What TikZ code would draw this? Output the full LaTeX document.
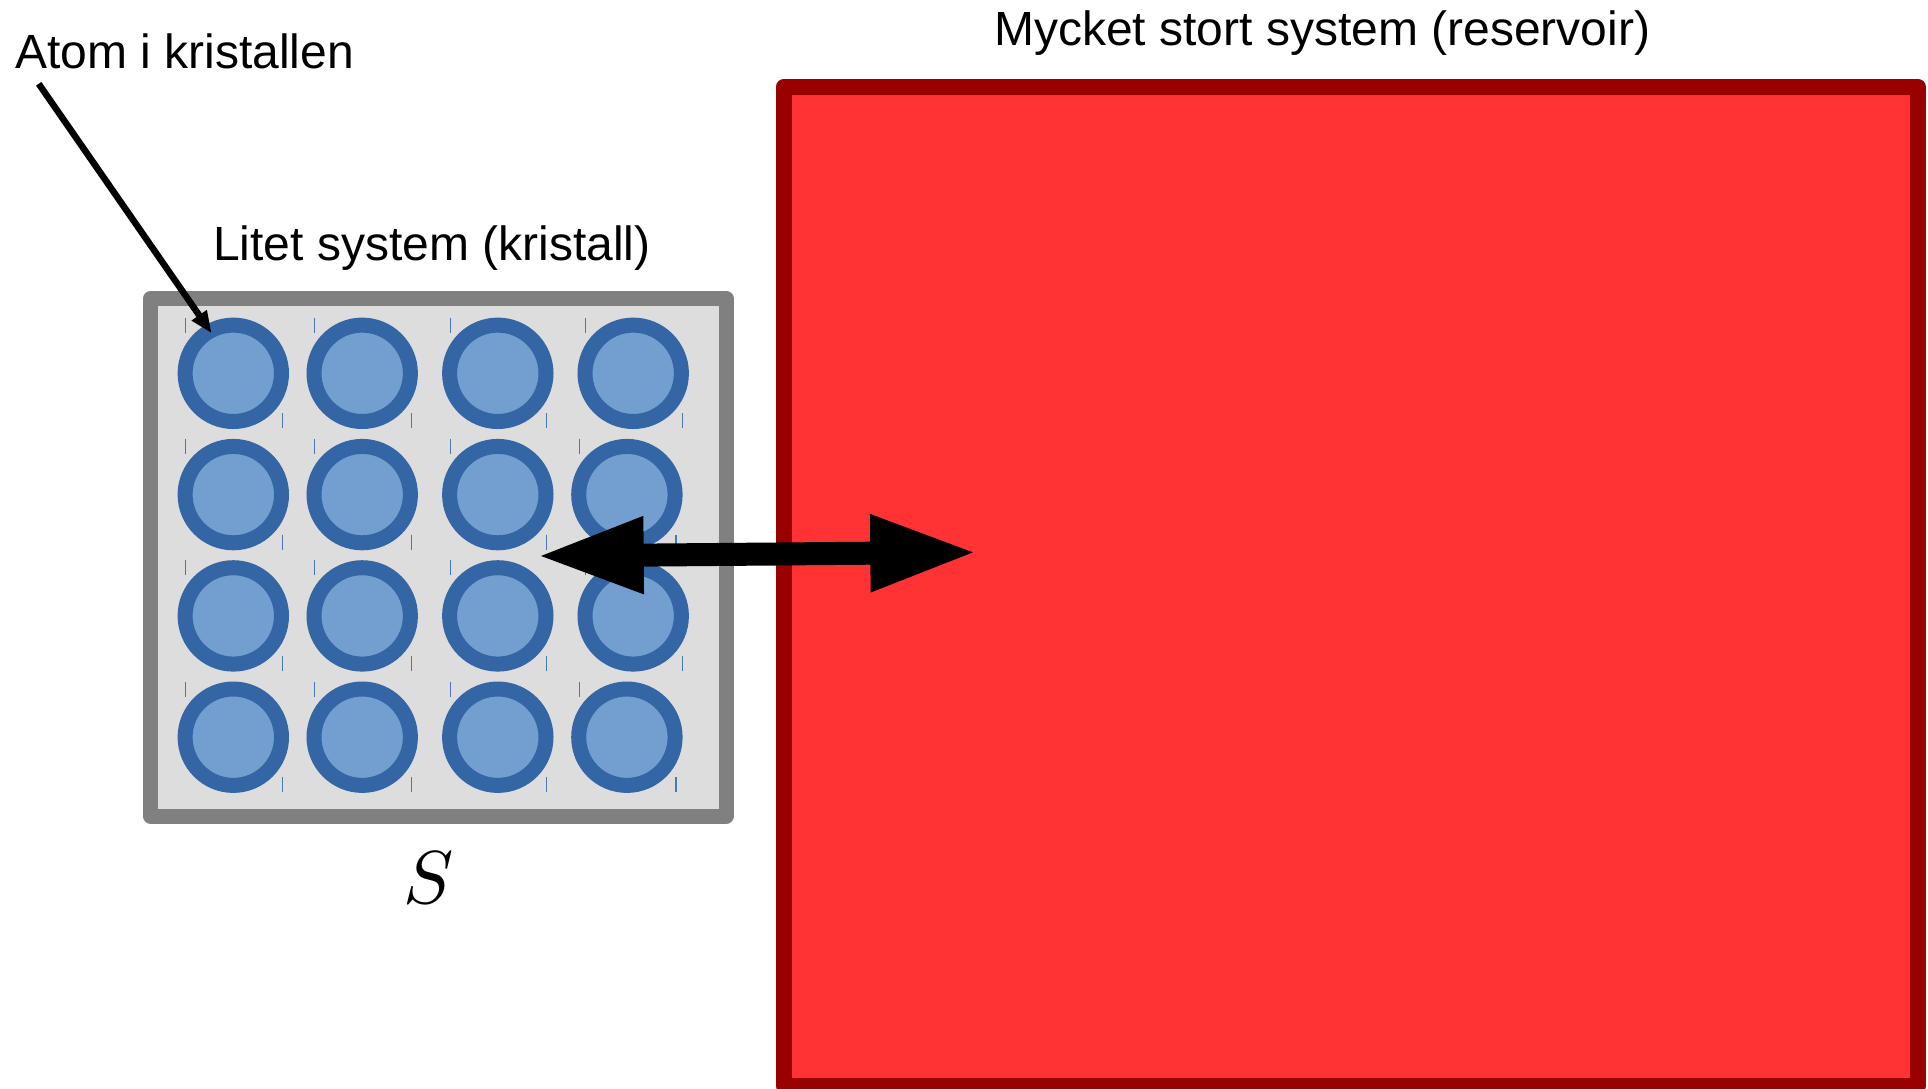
\documentclass[tikz,border=0pt]{standalone}
\usepackage{fontspec}
\setmainfont{Liberation Sans}
\usetikzlibrary{arrows.meta}
\definecolor{boxfill}{HTML}{DDDDDD}
\definecolor{boxline}{HTML}{808080}
\definecolor{atomfill}{HTML}{729FCF}
\definecolor{atomline}{HTML}{3465A4}
\definecolor{resfill}{HTML}{FF3333}
\definecolor{resline}{HTML}{990000}
\definecolor{tickcol}{HTML}{4A78B4}
\tikzset{
  lbl/.style={font=\fontsize{48}{58}\selectfont, inner sep=0pt, text=black},
  crystalbox/.style={draw=boxline, fill=boxfill, line width=15pt, line join=round, rectangle, inner sep=0pt},
  reservoirbox/.style={draw=resline, fill=resfill, line width=16pt, line join=round, rectangle, inner sep=0pt},
  atom/.style={circle, draw=atomline, fill=atomfill, line width=15pt, minimum size=96.4pt, inner sep=0pt},
  tickmark/.style={draw=tickcol, line width=1.3pt},
  bigarrow/.style={line width=23pt, {Triangle[length=107pt,width=71pt]}-{Triangle[length=107pt,width=71pt]}},
  pointer/.style={line width=6.5pt, -{Triangle[length=22pt,width=17pt]}}
}
\begin{document}
\begin{tikzpicture}[x=1pt,y=-1pt]
\useasboundingbox (0,0) rectangle (1928,1088);
\fill[white] (0,0) rectangle (1928,1088);
% crystal
\node[crystalbox, minimum width=575.5pt, minimum height=517.5pt] (crystal) at (438.25,557.25) {};
\foreach \n/\cx/\cy in {11/233.3/373.3, 12/362.2/373.3, 13/497.8/373.3, 14/633.2/373.3,
                        21/233.3/494.6, 22/362.2/494.6, 23/497.8/494.6, 24/626.9/494.6,
                        31/233.3/615.9, 32/362.2/615.9, 33/497.8/615.9, 34/633.2/615.9,
                        41/233.3/737.2, 42/362.2/737.2, 43/497.8/737.2, 44/626.9/737.2} {
  \node[atom] (c\n) at (\cx,\cy) {};
  \draw[tickmark] (\cx-47.6,\cy-55.5) -- ++(0,15);
  \draw[tickmark] (\cx+49,\cy+40) -- ++(0,15);
}
% reservoir
\node[reservoirbox, minimum width=1133.5pt, minimum height=999.5pt] (reservoir) at (1350.75,586.25) {};
% labels
\node[lbl, anchor=base west] (atomlbl) at (15,68.3) {Atom i kristallen};
\node[lbl, anchor=base west] (smalllbl) at (213,260) {Litet system (kristall)};
\node[lbl, anchor=base west] (biglbl) at (994,45.5) {Mycket stort system (reservoir)};
\node[inner sep=0pt, scale=7.5] (slbl) at (429,878.3) {$S$};
% arrows
\coordinate (pstart) at (38.7,83.8);
\coordinate (ptip) at (211.7,333.3);
\draw[pointer] (pstart) -- (ptip);
\coordinate (aleft) at (536.7,556);
\coordinate (aright) at (977.3,552.3);
\draw[bigarrow] (aleft) -- (aright);
\end{tikzpicture}
\end{document}
